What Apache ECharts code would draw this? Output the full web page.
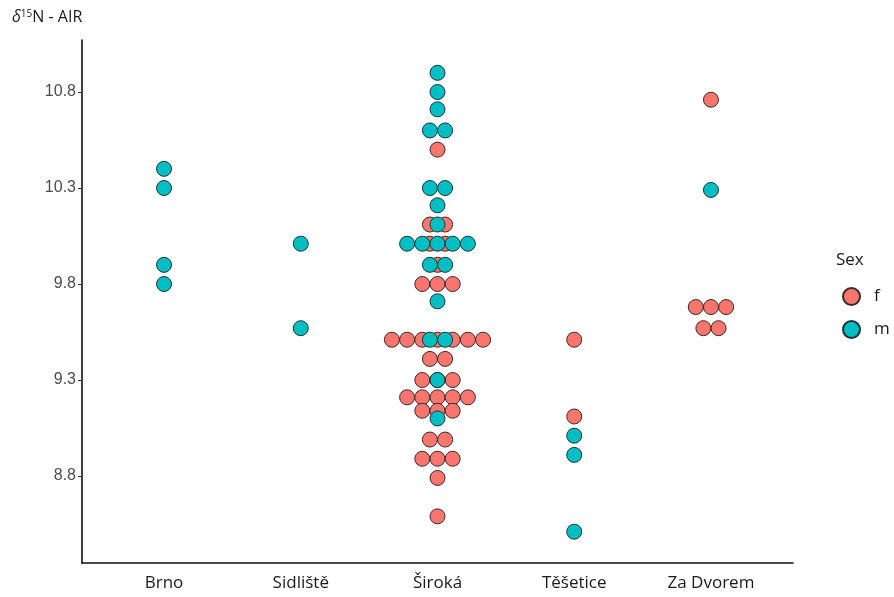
<!DOCTYPE html>
<html>
<head>
<meta charset="utf-8">
<script src="https://cdn.jsdelivr.net/npm/echarts@6/dist/echarts.min.js"></script>
<style>
  html, body { margin: 0; padding: 0; background: #fff; }
  #chart { width: 894px; height: 597px; }
</style>
</head>
<body>
<div id="chart"></div>
<script>
// Sites along the x axis
const sites = ['Brno', 'Sidliště', 'Široká', 'Těšetice', 'Za Dvorem'];

// δ15N values per site, one dot per individual (female)
const femaleValues = [
  [],
  [],
  [10.50, 10.11, 10.11, 10.01, 10.01, 9.90, 9.80, 9.80, 9.80,
   9.51, 9.51, 9.51, 9.51, 9.51, 9.51, 9.51, 9.41, 9.41,
   9.30, 9.30, 9.30, 9.21, 9.21, 9.21, 9.21, 9.21,
   9.14, 9.14, 9.14, 8.99, 8.99, 8.89, 8.89, 8.89, 8.79, 8.59],
  [9.51, 9.11],
  [10.76, 9.68, 9.68, 9.68, 9.57, 9.57]
];

// δ15N values per site, one dot per individual (male)
const maleValues = [
  [10.40, 10.30, 9.90, 9.80],
  [10.01, 9.57],
  [10.90, 10.80, 10.71, 10.60, 10.60, 10.30, 10.30, 10.21, 10.11,
   10.01, 10.01, 10.01, 10.01, 10.01, 9.90, 9.90, 9.71, 9.51, 9.51, 9.30, 9.10],
  [9.01, 8.91, 8.51],
  [10.29]
];

const yTicks = [8.8, 9.3, 9.8, 10.3, 10.8];

const DOT = 15;        // dot diameter, px
const STEP = 15.2;     // horizontal spacing of stacked dots, px

// Build centred stacks: dots sharing a value within a site sit side by side
function buildDots(groups) {
  const out = [];
  groups.forEach((vals, i) => {
    const counts = {};
    vals.forEach(v => { counts[v] = (counts[v] || 0) + 1; });
    const seen = {};
    vals.forEach(v => {
      const k = seen[v] || 0;
      seen[v] = k + 1;
      const n = counts[v];
      const dx = (k - (n - 1) / 2) * STEP;
      out.push({ value: [i + 1, v], symbolOffset: [dx, 0] });
    });
  });
  return out;
}

const chart = echarts.init(document.getElementById('chart'));

const labelFont = 'Liberation Sans, Arial, sans-serif';
const textFont = 'Open Sans, Lato, sans-serif';

chart.setOption({
  animation: false,
  backgroundColor: '#ffffff',
  title: {
    left: 7,
    top: 4,
    text: '{d|δ}{s|15}{n|N - AIR}',
    textStyle: {
      fontWeight: 'normal',
      fontSize: 16,
      rich: {
        d: { fontFamily: textFont, fontStyle: 'italic', fontWeight: 'normal', fontSize: 16, color: '#1a1a1a' },
        s: { fontFamily: textFont, fontWeight: 'normal', fontSize: 10, color: '#1a1a1a', verticalAlign: 'top', padding: [0, 0, 7, 0] },
        n: { fontFamily: textFont, fontWeight: 'normal', fontSize: 16, color: '#1a1a1a' }
      }
    }
  },
  graphic: [{
    type: 'text',
    left: 836,
    top: 252,
    style: { text: 'Sex', fontFamily: textFont, fontSize: 17, fill: '#1a1a1a' }
  }],
  legend: {
    orient: 'vertical',
    left: 837,
    top: 282,
    itemWidth: 17,
    itemHeight: 17,
    itemGap: 14,
    icon: 'circle',
    textStyle: { fontFamily: textFont, fontSize: 17, color: '#1a1a1a', padding: [0, 0, 0, 9] },
    data: ['f', 'm']
  },
  grid: { left: 82, right: 101, top: 40, bottom: 34, containLabel: false },
  xAxis: {
    type: 'value',
    min: 0.4,
    max: 5.6,
    splitLine: { show: false },
    axisLine: { show: true, lineStyle: { color: '#111', width: 1.6 } },
    axisTick: { show: false },
    axisLabel: {
      customValues: [1, 2, 3, 4, 5],
      formatter: v => sites[Math.round(v) - 1] || '',
      fontFamily: textFont,
      fontSize: 17,
      color: '#1a1a1a',
      margin: 12
    }
  },
  yAxis: {
    type: 'value',
    min: 8.347,
    max: 11.071,
    splitLine: { show: false },
    axisLine: { show: true, lineStyle: { color: '#111', width: 1.6 } },
    axisTick: { show: true, customValues: yTicks, length: 4, lineStyle: { color: '#333' } },
    axisLabel: {
      customValues: yTicks,
      formatter: v => v.toFixed(1),
      fontFamily: labelFont,
      fontSize: 16,
      color: '#4d4d4d',
      margin: 6
    }
  },
  series: [
    {
      name: 'f',
      type: 'scatter',
      symbol: 'circle',
      symbolSize: DOT,
      itemStyle: { color: '#F8766D', borderColor: '#3a2a2a', borderWidth: 1, opacity: 1 },
      data: buildDots(femaleValues),
      z: 2
    },
    {
      name: 'm',
      type: 'scatter',
      symbol: 'circle',
      symbolSize: DOT,
      itemStyle: { color: '#00BFC4', borderColor: '#1f3333', borderWidth: 1, opacity: 1 },
      data: buildDots(maleValues),
      z: 3
    }
  ]
});
</script>
</body>
</html>
